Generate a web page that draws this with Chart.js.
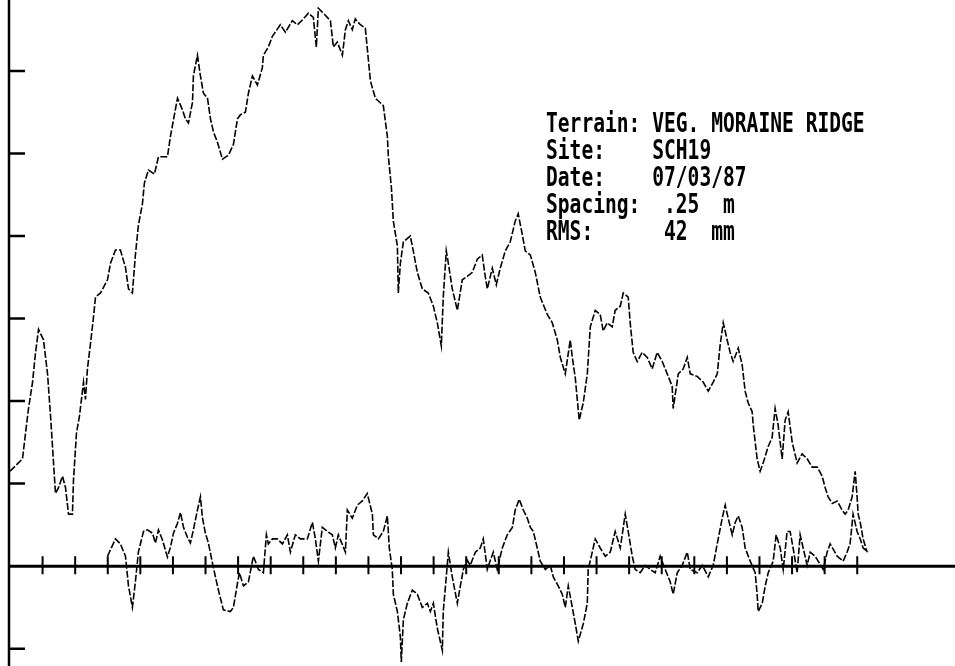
<!DOCTYPE html>
<html>
<head>
<meta charset="utf-8">
<script src="https://cdn.jsdelivr.net/npm/chart.js@4"></script>
<style>
  html, body { margin: 0; padding: 0; background: #fff; }
  #wrap { width: 955px; height: 666px; }
</style>
</head>
<body>
<div id="wrap"><canvas id="profile"></canvas></div>
<script>
// terrain profile, distance along track (m) and height (mm)
const profileDistance = [
  0.00, 0.96, 1.19, 1.42, 1.73, 1.96, 2.19, 2.57, 2.88, 3.11,
  3.26, 3.49, 3.72, 4.03, 4.26, 4.49, 4.79, 4.87, 5.10, 5.33,
  5.64, 5.79, 5.94, 6.17, 6.40, 6.56, 6.94, 7.48, 7.71, 8.09,
  8.47, 8.86, 9.09, 9.39, 9.62, 9.85, 10.16, 10.31, 10.62, 11.08,
  11.39, 12.08, 12.31, 12.85, 13.23, 13.46, 13.69, 14.00, 14.07, 14.38,
  14.61, 14.84, 15.15, 15.38, 15.61, 15.91, 16.30, 16.76, 17.14, 17.45,
  17.68, 18.06, 18.29, 18.60, 18.98, 19.36, 19.44, 19.82, 20.13, 20.74,
  21.13, 21.66, 22.05, 22.51, 22.89, 23.27, 23.50, 23.66, 24.04, 24.58,
  24.81, 25.11, 25.50, 25.73, 25.96, 26.26, 26.49, 26.88, 27.26, 27.65,
  28.03, 28.64, 28.95, 29.03, 29.26, 29.41, 29.72, 29.79, 29.95, 30.18,
  30.71, 30.94, 31.25, 31.63, 32.09, 32.48, 32.78, 33.09, 33.24, 33.47,
  33.63, 33.93, 34.32, 34.70, 35.08, 35.47, 35.85, 36.23, 36.46, 36.62,
  37.00, 37.31, 37.61, 38.00, 38.38, 38.76, 38.99, 39.30, 39.53, 39.92,
  40.30, 40.68, 41.22, 41.60, 41.99, 42.22, 42.60, 42.98, 43.14, 43.37,
  43.52, 43.67, 43.98, 44.29, 44.52, 44.90, 45.28, 45.51, 45.82, 46.20,
  46.43, 46.82, 47.05, 47.43, 47.58, 47.81, 48.12, 48.50, 48.89, 49.27,
  49.65, 50.04, 50.42, 50.80, 50.88, 51.27, 51.65, 51.96, 52.19, 52.72,
  53.18, 53.57, 53.95, 54.26, 54.49, 54.72, 55.02, 55.25, 55.48, 55.87,
  56.17, 56.40, 56.63, 56.94, 57.02, 57.32, 57.55, 57.78, 58.17, 58.47,
  58.70, 58.93, 59.24, 59.47, 59.70, 60.01, 60.39, 60.77, 61.16, 61.54,
  61.93, 62.31, 62.54, 62.77, 63.08, 63.46, 63.84, 64.07, 64.30, 64.61,
  64.84, 64.99, 65.07, 65.23, 65.45, 65.76
];
const profileHeight = [
  115, 130, 161, 191, 223, 259, 287, 274, 233, 182,
  145, 88, 95, 109, 95, 63, 63, 104, 161, 182,
  223, 202, 239, 269, 301, 326, 331, 347, 367, 383,
  383, 362, 336, 331, 377, 413, 439, 464, 480, 475,
  496, 496, 521, 567, 553, 542, 537, 562, 594, 619,
  594, 573, 567, 542, 526, 514, 493, 498, 511, 542,
  547, 550, 573, 594, 583, 604, 619, 629, 642, 656,
  647, 661, 656, 663, 670, 665, 629, 676, 670, 661,
  629, 635, 619, 650, 661, 650, 663, 656, 652, 588,
  567, 558, 521, 496, 459, 418, 388, 331, 367, 393,
  400, 382, 356, 336, 331, 315, 295, 267, 326, 382,
  367, 336, 310, 347, 351, 356, 372, 377, 351, 336,
  361, 341, 361, 382, 393, 418, 427, 402, 382, 377,
  356, 326, 305, 295, 274, 253, 233, 274, 253, 228,
  202, 177, 198, 233, 290, 310, 305, 285, 295, 290,
  310, 315, 331, 326, 295, 259, 248, 259, 253, 239,
  259, 248, 233, 218, 191, 233, 239, 253, 233, 230,
  223, 212, 223, 233, 269, 295, 274, 259, 248, 264,
  244, 212, 198, 187, 171, 130, 115, 125, 145, 156,
  191, 171, 130, 177, 187, 150, 125, 136, 130, 120,
  120, 109, 95, 84, 76, 79, 68, 63, 68, 84,
  115, 84, 63, 53, 33, 17
];

// detrended profile (residual about the trend), m and mm
const residualDistance = [
  7.48, 8.09, 8.47, 8.86, 9.09, 9.39, 9.62, 9.85, 10.24, 10.54,
  10.93, 11.16, 11.39, 11.69, 12.08, 12.31, 12.54, 12.85, 13.08, 13.31,
  13.61, 13.84, 14.07, 14.38, 14.61, 14.76, 14.99, 15.22, 15.53, 15.76,
  15.99, 16.37, 16.91, 17.14, 17.45, 17.60, 17.91, 18.29, 18.67, 19.06,
  19.44, 19.67, 19.82, 20.13, 20.51, 20.90, 21.28, 21.51, 21.89, 22.28,
  22.81, 23.20, 23.43, 23.66, 23.96, 24.35, 24.73, 24.96, 25.19, 25.73,
  25.88, 26.26, 26.65, 27.03, 27.41, 27.80, 27.88, 28.26, 28.64, 28.95,
  29.10, 29.33, 29.41, 29.72, 29.95, 30.02, 30.18, 30.48, 30.87, 31.25,
  31.63, 32.02, 32.25, 32.48, 32.78, 33.17, 33.24, 33.47, 33.63, 33.93,
  34.32, 34.55, 34.78, 35.08, 35.31, 35.70, 36.08, 36.31, 36.62, 36.85,
  37.08, 37.38, 37.77, 38.15, 38.54, 38.76, 39.07, 39.38, 39.69, 39.92,
  40.15, 40.45, 40.68, 41.07, 41.45, 41.68, 42.06, 42.37, 42.60, 42.83,
  43.14, 43.37, 43.60, 43.98, 44.29, 44.36, 44.67, 44.90, 45.28, 45.67,
  46.05, 46.43, 46.82, 47.20, 47.43, 47.74, 47.97, 48.35, 48.73, 49.12,
  49.50, 49.88, 50.27, 50.65, 50.88, 51.19, 51.57, 51.96, 52.19, 52.72,
  53.11, 53.57, 53.95, 54.26, 54.64, 54.87, 55.10, 55.41, 55.64, 55.87,
  56.17, 56.40, 56.79, 57.17, 57.32, 57.40, 57.71, 57.94, 58.17, 58.55,
  58.78, 59.09, 59.32, 59.62, 59.85, 60.08, 60.39, 60.62, 60.85, 61.16,
  61.39, 61.77, 62.00, 62.39, 62.69, 62.92, 63.46, 63.92, 64.22, 64.45,
  64.68, 64.99, 65.23, 65.45, 65.83
];
const residualHeight = [
  12, 33, 27, 12, -24, -50, -19, 17, 42, 44,
  40, 28, 44, 32, 11, 23, 40, 52, 65, 47,
  35, 28, 44, 68, 84, 59, 40, 28, 4, -13,
  -29, -53, -55, -50, -21, -8, -24, -19, 12, -4,
  -8, 38, 27, 33, 33, 27, 38, 17, 38, 33,
  33, 53, 33, 6, 47, 42, 38, 22, 38, 17,
  68, 58, 74, 79, 88, 63, 38, 33, 42, 61,
  22, -4, -34, -55, -86, -116, -65, -45, -29, -34,
  -50, -45, -55, -45, -75, -102, -55, -13, 17, -13,
  -45, -24, -4, 7, 1, 17, 22, 33, -4, 7,
  17, -4, 22, 38, 47, 68, 81, 68, 58, 47,
  42, 22, 6, -4, 1, -13, -24, -34, -50, -24,
  -50, -70, -91, -70, -45, -4, 17, 33, 22, 12,
  17, 42, 22, 63, 42, 12, -4, -8, 1, -4,
  -8, 12, -4, -19, -34, -8, 1, 17, -4, -8,
  1, -13, 1, 27, 58, 74, 58, 38, 53, 61,
  47, 22, 6, -8, -34, -55, -45, -24, -8, 6,
  38, 22, -4, 42, 42, 22, -8, 38, 22, 1,
  17, 12, 6, -4, 17, 27, 12, 6, 17, 27,
  63, 42, 33, 22, 17
];

// axis tick positions
const heightTicks = [-100, 100, 200, 300, 400, 500, 600];
const distanceTicks = [
  2.5, 5, 7.5, 10, 12.5, 15, 17.5, 20, 22.5, 25, 27.5, 30, 32.5,
  35, 37.5, 40, 42.5, 45, 47.5, 50, 52.5, 55, 57.5, 60, 62.5, 65
];

// info block
const infoLines = [
  'Terrain: VEG. MORAINE RIDGE',
  'Site:    SCH19',
  'Date:    07/03/87',
  'Spacing:  .25  m',
  'RMS:      42  mm'
];

const toPoints = (xs, ys) => xs.map((d, i) => ({x: d, y: ys[i]}));

// axes drawn the plotter way: ticks inside the left axis, ticks crossing the zero line
const plotterAxes = {
  id: 'plotterAxes',
  afterDatasetsDraw(chart) {
    const {ctx, chartArea, scales: {x, y}} = chart;
    const x0 = x.getPixelForValue(0) - 1;
    const y0 = y.getPixelForValue(0);
    ctx.save();
    ctx.strokeStyle = '#000';
    ctx.lineCap = 'butt';

    ctx.lineWidth = 2.5;
    ctx.beginPath();
    ctx.moveTo(x0, chartArea.top);
    ctx.lineTo(x0, chartArea.bottom);
    heightTicks.forEach(v => {
      const py = y.getPixelForValue(v);
      ctx.moveTo(x0, py);
      ctx.lineTo(x0 + 16, py);
    });
    ctx.stroke();

    ctx.lineWidth = 3;
    ctx.beginPath();
    ctx.moveTo(x0, y0);
    ctx.lineTo(chart.width, y0);
    ctx.stroke();

    ctx.lineWidth = 2;
    ctx.beginPath();
    distanceTicks.forEach(v => {
      const px = x.getPixelForValue(v);
      ctx.moveTo(px, y0 - 10);
      ctx.lineTo(px, y0 + 8);
    });
    ctx.stroke();
    ctx.restore();
  }
};

const infoBlock = {
  id: 'infoBlock',
  afterDraw(chart) {
    const ctx = chart.ctx;
    const squeeze = 0.726;
    ctx.save();
    ctx.scale(squeeze, 1);
    ctx.fillStyle = '#000';
    ctx.font = 'bold 27px "DejaVu Sans Mono"';
    ctx.textBaseline = 'alphabetic';
    infoLines.forEach((t, i) => {
      ctx.fillText(t, 546 / squeeze, 132 + i * 27);
    });
    ctx.restore();
  }
};

// plotter trace: thin black, slightly broken like the original pen
const trace = {
  borderColor: '#000',
  borderWidth: 1.6,
  borderDash: [7, 2],
  pointRadius: 0,
  tension: 0
};

new Chart(document.getElementById('profile'), {
  type: 'line',
  data: {
    datasets: [
      Object.assign({ label: 'Profile', data: toPoints(profileDistance, profileHeight) }, trace),
      Object.assign({ label: 'Detrended', data: toPoints(residualDistance, residualHeight) }, trace)
    ]
  },
  options: {
    responsive: true,
    maintainAspectRatio: false,
    animation: false,
    layout: { padding: { left: 10, right: 0, top: 0, bottom: 0 } },
    scales: {
      x: { type: 'linear', min: 0, max: 72.5, display: false },
      y: { type: 'linear', min: -121, max: 686, display: false }
    },
    plugins: {
      legend: { display: false },
      tooltip: { enabled: false }
    }
  },
  plugins: [plotterAxes, infoBlock]
});
</script>
</body>
</html>
